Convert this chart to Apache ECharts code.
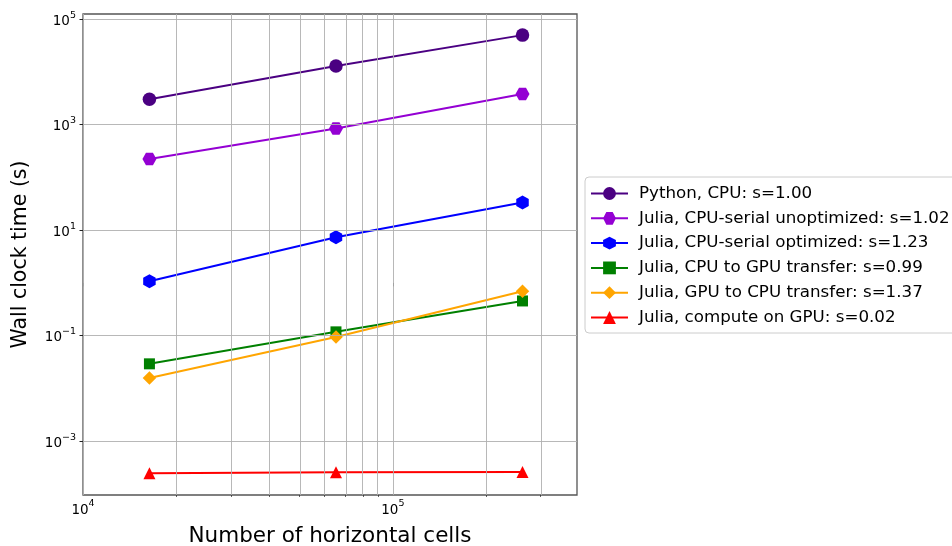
<!DOCTYPE html>
<html>
<head>
<meta charset="utf-8">
<script src="https://cdn.jsdelivr.net/npm/echarts@6/dist/echarts.min.js"></script>
<style>
  html, body { margin: 0; padding: 0; background: #fff; }
  #chart { width: 952px; height: 546px; }
</style>
</head>
<body>
<div id="chart"></div>
<script>
// ---- data (raw values) ----
const cells = [16384, 65536, 262144];
const seriesNames = [
  'Python, CPU: s=1.00',
  'Julia, CPU-serial unoptimized: s=1.02',
  'Julia, CPU-serial optimized: s=1.23',
  'Julia, CPU to GPU transfer: s=0.99',
  'Julia, GPU to CPU transfer: s=1.37',
  'Julia, compute on GPU: s=0.02'
];
const pythonCPU = [3040, 13060, 50100];
const juliaUnopt = [225, 851, 3830];
const juliaOpt = [1.08, 7.33, 33.6];
const cpuToGpu = [0.0292, 0.118, 0.455];
const gpuToCpu = [0.0158, 0.094, 0.695];
const gpuCompute = [0.000246, 0.000257, 0.000258];

const xMajorTicks = [1e4, 1e5];
const xMinorTicks = [2e4, 3e4, 4e4, 5e4, 6e4, 7e4, 8e4, 9e4, 2e5, 3e5];
const yMajorTicks = [1e-3, 1e-1, 1e1, 1e3, 1e5];
const xRange = [1e4, 3.93e5];
const yRange = [9.5e-5, 1.26e5];

// ---- helpers ----
const L = Math.log10;
const FONT = 'DejaVu Sans';
const hexPointy = 'path://M0,-1L0.866,-0.5L0.866,0.5L0,1L-0.866,0.5L-0.866,-0.5Z';
const hexFlat = 'path://M-1,0L-0.5,-0.866L0.5,-0.866L1,0L0.5,0.866L-0.5,0.866Z';

function powLabel(v) {
  const e = Math.round(v);
  const s = e < 0 ? '\u2212' + (-e) : String(e);
  return '{b|10}{s|' + s + '}';
}
const richLabel = {
  b: { fontSize: 13.5, fontFamily: FONT, color: '#000', verticalAlign: 'bottom', lineHeight: 18 },
  s: { fontSize: 9.5, fontFamily: FONT, color: '#000', verticalAlign: 'top', lineHeight: 10 }
};

const styles = [
  { color: '#4b0082', symbol: 'circle', size: 13.5 },
  { color: '#9400d3', symbol: hexFlat, size: [14, 12.5] },
  { color: '#0000ff', symbol: hexPointy, size: [12.5, 14] },
  { color: '#008000', symbol: 'rect', size: 11 },
  { color: '#ffa500', symbol: 'diamond', size: 13.5 },
  { color: '#ff0000', symbol: 'triangle', size: 12 }
];
const values = [pythonCPU, juliaUnopt, juliaOpt, cpuToGpu, gpuToCpu, gpuCompute];

const gridLineStyle = { color: '#b0b0b0', width: 0.9, type: 'solid' };
const gridMarks = [];
xMajorTicks.concat(xMinorTicks).forEach(v => gridMarks.push({ xAxis: L(v) }));
yMajorTicks.forEach(v => gridMarks.push({ yAxis: L(v) }));

const series = [{
  name: '__grid',
  type: 'line',
  data: [],
  z: 1,
  silent: true,
  markLine: {
    silent: true,
    symbol: ['none', 'none'],
    label: { show: false },
    lineStyle: gridLineStyle,
    emphasis: { disabled: true },
    animation: false,
    data: gridMarks
  }
}];
values.forEach((arr, i) => {
  const st = styles[i];
  series.push({
    name: seriesNames[i],
    type: 'line',
    z: 3,
    data: arr.map((v, j) => [L(cells[j]), L(v)]),
    symbol: st.symbol,
    symbolSize: st.size,
    showAllSymbol: true,
    itemStyle: { color: st.color, borderWidth: 0 },
    lineStyle: { color: st.color, width: 2 },
    emphasis: { disabled: true }
  });
});

const chart = echarts.init(document.getElementById('chart'), null, { renderer: 'canvas' });
chart.setOption({
  animation: false,
  backgroundColor: '#fff',
  textStyle: { fontFamily: FONT },
  grid: {
    left: 83, right: 375, top: 14, bottom: 51,
    show: true, borderColor: '#555', borderWidth: 1.3, backgroundColor: 'transparent',
    containLabel: false,
    outerBoundsMode: 'none'
  },
  legend: {
    data: seriesNames,
    orient: 'vertical',
    left: 585, top: 177,
    padding: [8, 10, 7, 5],
    itemWidth: 37, itemHeight: 16, itemGap: 7.8,
    borderColor: '#cccccc', borderWidth: 1, borderRadius: 4,
    backgroundColor: '#fff',
    selectedMode: false,
    textStyle: { fontSize: 16.7, lineHeight: 16, fontFamily: FONT, color: '#000', padding: [0, 0, 0, 6] }
  },
  xAxis: [{
    type: 'value',
    min: L(xRange[0]), max: L(xRange[1]),
    name: 'Number of horizontal cells',
    nameLocation: 'middle', nameGap: 30,
    nameTextStyle: { fontSize: 21.5, fontFamily: FONT, color: '#000' },
    axisLine: { show: false },
    splitLine: { show: false },
    axisTick: { show: true, length: 3.5, lineStyle: { color: '#222', width: 1 }, customValues: xMajorTicks.map(L) },
    axisLabel: { margin: 4, customValues: xMajorTicks.map(L), formatter: powLabel, rich: richLabel }
  }, {
    type: 'value', gridIndex: 0, position: 'bottom',
    min: L(xRange[0]), max: L(xRange[1]),
    axisLine: { show: false },
    splitLine: { show: false },
    axisLabel: { show: false },
    axisTick: { show: true, length: 2, lineStyle: { color: '#222', width: 0.7 }, customValues: xMinorTicks.map(L) }
  }],
  yAxis: {
    type: 'value',
    min: L(yRange[0]), max: L(yRange[1]),
    name: 'Wall clock time (s)',
    nameLocation: 'middle', nameGap: 52, nameRotate: 90,
    nameTextStyle: { fontSize: 20.5, fontFamily: FONT, color: '#000' },
    axisLine: { show: false },
    splitLine: { show: false },
    axisTick: { show: true, length: 3.5, lineStyle: { color: '#222', width: 1 }, customValues: yMajorTicks.map(L) },
    axisLabel: { margin: 7, customValues: yMajorTicks.map(L), formatter: powLabel, rich: richLabel }
  },
  series: series
});
</script>
</body>
</html>
